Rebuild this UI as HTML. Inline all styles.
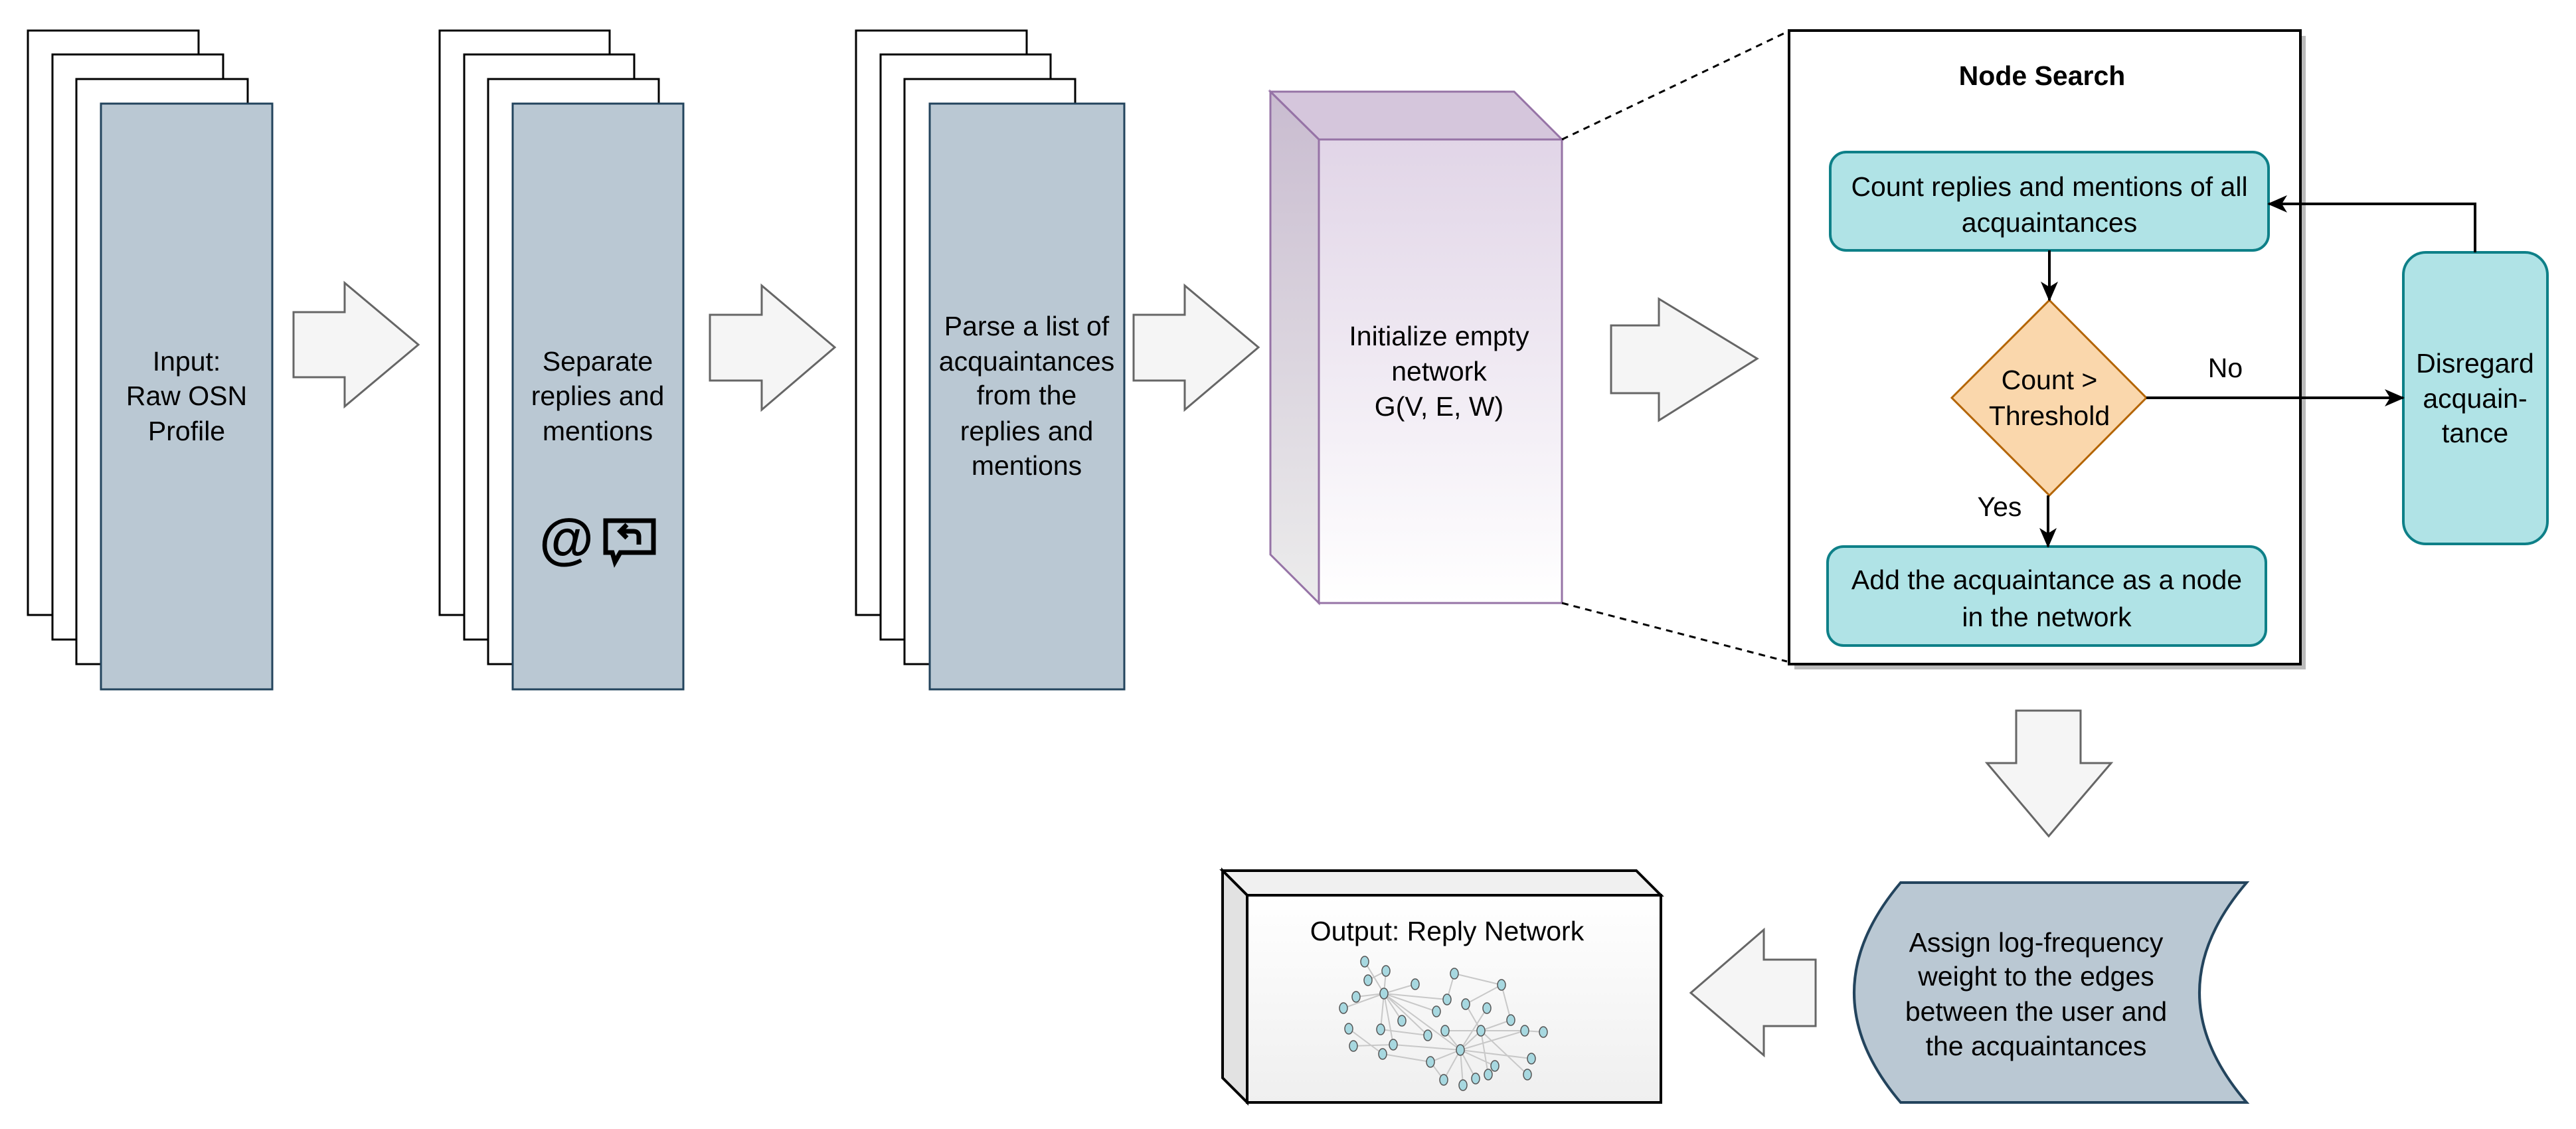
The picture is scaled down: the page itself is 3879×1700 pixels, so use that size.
<!DOCTYPE html>
<html><head><meta charset="utf-8"><style>html,body{margin:0;padding:0;background:#fff}svg{display:block}</style></head>
<body>
<svg width="3879" height="1700" viewBox="0 0 3879 1700" xmlns="http://www.w3.org/2000/svg" font-family="'Liberation Sans', sans-serif">
<defs>
<linearGradient id="pf" x1="0" y1="0" x2="0" y2="1"><stop offset="0" stop-color="#e1d5e7"/><stop offset="1" stop-color="#ffffff"/></linearGradient>
<linearGradient id="pl" x1="0" y1="0" x2="0" y2="1"><stop offset="0" stop-color="#c9bcd0"/><stop offset="1" stop-color="#ececec"/></linearGradient>
<linearGradient id="of" x1="0" y1="0" x2="0" y2="1"><stop offset="0" stop-color="#ffffff"/><stop offset="1" stop-color="#efefef"/></linearGradient>
<marker id="ah" markerWidth="30" markerHeight="30" refX="28" refY="15" orient="auto" markerUnits="userSpaceOnUse" viewBox="0 0 30 30"><path d="M0,2 L30,15 L0,28 L8,15 Z" fill="#000"/></marker>
</defs>
<g fill="#fff" stroke="#000" stroke-width="3">
<rect x="42" y="46" width="257" height="880"/><rect x="79" y="82" width="257" height="881"/><rect x="115" y="119" width="258" height="881"/>
<rect x="662" y="46" width="256" height="880"/><rect x="699" y="82" width="256" height="881"/><rect x="735" y="119" width="257" height="881"/>
<rect x="1289" y="46" width="257" height="880"/><rect x="1326" y="82" width="256" height="881"/><rect x="1362" y="119" width="257" height="881"/>
</g>
<g fill="#bac8d3" stroke="#23445d" stroke-width="3">
<rect x="152" y="156" width="258" height="882"/><rect x="772" y="156" width="257" height="882"/><rect x="1400" y="156" width="293" height="882"/>
</g>
<g font-size="41" text-anchor="middle" fill="#000">
<text x="281" y="558">Input:</text><text x="281" y="610">Raw OSN</text><text x="281" y="663">Profile</text>
<text x="900" y="558">Separate</text><text x="900" y="610">replies and</text><text x="900" y="663">mentions</text>
<text x="1546" y="505">Parse a list of</text><text x="1546" y="558">acquaintances</text><text x="1546" y="609">from the</text><text x="1546" y="663">replies and</text><text x="1546" y="715">mentions</text>
</g>
<text x="853" y="840" font-size="84" font-weight="bold" text-anchor="middle">@</text>
<g fill="none" stroke="#000" stroke-width="7"><path d="M912,784 H984 V832 H934 L926,846 L922,832 H912 Z"/><path d="M962,820 V808 Q962,800 954,800 H934"/><path d="M944,790 L934,800 L944,810"/></g>
<g fill="#f5f5f5" stroke="#666" stroke-width="3">
<path d="M442,470 H519 V426 L630,519 L519,612 V568 H442 Z"/>
<path d="M1069,474 H1147 V430 L1257,523 L1147,617 V573 H1069 Z"/>
<path d="M1707,474 H1784 V430 L1895,523 L1784,617 V573 H1707 Z"/>
<path d="M2426,490 H2498 V450 L2646,540 L2498,633 V592 H2426 Z"/>
<path d="M3036,1070 H3133 V1149 H3179 L3085,1259 L2992,1149 H3036 Z"/>
<path d="M2734,1445 V1545 H2656 V1589 L2546,1495 L2656,1400 V1445 Z"/>
</g>
<polygon points="1913,138 2280,138 2352,210 1986,210" fill="#d5c6dc" stroke="#9673a6" stroke-width="3"/>
<polygon points="1913,138 1986,210 1986,908 1913,835" fill="url(#pl)" stroke="#9673a6" stroke-width="3"/>
<rect x="1986" y="210" width="366" height="698" fill="url(#pf)" stroke="#9673a6" stroke-width="3"/>
<g font-size="41" text-anchor="middle"><text x="2167" y="520">Initialize empty</text><text x="2167" y="573">network</text><text x="2167" y="626">G(V, E, W)</text></g>
<g stroke="#000" stroke-width="3" stroke-dasharray="10,8"><line x1="2352" y1="210" x2="2691" y2="48"/><line x1="2352" y1="908" x2="2691" y2="996"/></g>
<rect x="2702" y="54" width="770" height="954" fill="#bbb"/>
<rect x="2694" y="46" width="770" height="954" fill="#fff" stroke="#000" stroke-width="4"/>
<text x="3075" y="128" font-size="41" font-weight="bold" text-anchor="middle">Node Search</text>
<rect x="2756" y="229" width="660" height="148" rx="24" fill="#b0e3e6" stroke="#0e8088" stroke-width="4"/>
<g font-size="41" text-anchor="middle"><text x="3086" y="295">Count replies and mentions of all</text><text x="3086" y="349">acquaintances</text></g>
<polygon points="3086,452 3232,599 3086,746 2939,599" fill="#fad7ac" stroke="#b46504" stroke-width="3"/>
<g font-size="41" text-anchor="middle"><text x="3086" y="586">Count &gt;</text><text x="3086" y="640">Threshold</text></g>
<rect x="2752" y="823" width="660" height="149" rx="24" fill="#b0e3e6" stroke="#0e8088" stroke-width="4"/>
<g font-size="41" text-anchor="middle"><text x="3082" y="887">Add the acquaintance as a node</text><text x="3082" y="943">in the network</text></g>
<rect x="3619" y="380" width="217" height="439" rx="34" fill="#b0e3e6" stroke="#0e8088" stroke-width="4"/>
<g font-size="41" text-anchor="middle"><text x="3727" y="561">Disregard</text><text x="3727" y="614">acquain-</text><text x="3727" y="666">tance</text></g>
<g stroke="#000" stroke-width="4" fill="none" marker-end="url(#ah)">
<line x1="3086" y1="377" x2="3086" y2="452"/>
<line x1="3084" y1="746" x2="3084" y2="823"/>
<line x1="3232" y1="599" x2="3619" y2="599"/>
<polyline points="3727,380 3727,307 3416,307"/>
</g>
<text x="3011" y="777" font-size="41" text-anchor="middle">Yes</text>
<text x="3351" y="568" font-size="41" text-anchor="middle">No</text>
<path d="M2862,1329 L3383,1329 Q3241,1495 3383,1660 L2862,1660 Q2722,1495 2862,1329 Z" fill="#bac8d3" stroke="#23445d" stroke-width="4"/>
<g font-size="41" text-anchor="middle"><text x="3066" y="1433">Assign log-frequency</text><text x="3066" y="1484">weight to the edges</text><text x="3066" y="1537">between the user and</text><text x="3066" y="1589">the acquaintances</text></g>
<polygon points="1841,1311 2464,1311 2501,1348 1878,1348" fill="#f0f0f0" stroke="#000" stroke-width="4"/>
<polygon points="1841,1311 1878,1348 1878,1660 1841,1623" fill="#e2e2e2" stroke="#000" stroke-width="4"/>
<rect x="1878" y="1348" width="623" height="312" fill="url(#of)" stroke="#000" stroke-width="4"/>
<text x="2179" y="1416" font-size="41" text-anchor="middle">Output: Reply Network</text>
<g stroke="#c8c8c8" stroke-width="2">
<line x1="2084" y1="1496" x2="2055" y2="1448"/><line x1="2084" y1="1496" x2="2087" y2="1462"/><line x1="2084" y1="1496" x2="2131" y2="1482"/><line x1="2084" y1="1496" x2="2042" y2="1501"/><line x1="2084" y1="1496" x2="2023" y2="1518"/><line x1="2084" y1="1496" x2="2179" y2="1505"/><line x1="2084" y1="1496" x2="2111" y2="1537"/><line x1="2084" y1="1496" x2="2079" y2="1550"/><line x1="2084" y1="1496" x2="2150" y2="1559"/><line x1="2084" y1="1496" x2="2199" y2="1581"/><line x1="2084" y1="1496" x2="2098" y2="1573"/><line x1="2084" y1="1496" x2="2163" y2="1523"/>
<line x1="2190" y1="1466" x2="2261" y2="1483"/><line x1="2190" y1="1466" x2="2179" y2="1505"/><line x1="2261" y1="1483" x2="2207" y2="1512"/><line x1="2261" y1="1483" x2="2275" y2="1536"/>
<line x1="2199" y1="1581" x2="2230" y2="1552"/><line x1="2199" y1="1581" x2="2154" y2="1599"/><line x1="2199" y1="1581" x2="2174" y2="1626"/><line x1="2199" y1="1581" x2="2203" y2="1634"/><line x1="2199" y1="1581" x2="2222" y2="1624"/><line x1="2199" y1="1581" x2="2251" y2="1605"/><line x1="2199" y1="1581" x2="2306" y2="1594"/><line x1="2199" y1="1581" x2="2176" y2="1552"/><line x1="2199" y1="1581" x2="2296" y2="1552"/><line x1="2199" y1="1581" x2="2239" y2="1518"/><line x1="2199" y1="1581" x2="2098" y2="1573"/>
<line x1="2230" y1="1552" x2="2296" y2="1552"/><line x1="2230" y1="1552" x2="2275" y2="1536"/><line x1="2230" y1="1552" x2="2176" y2="1552"/><line x1="2230" y1="1552" x2="2300" y2="1618"/><line x1="2230" y1="1552" x2="2241" y2="1618"/><line x1="2230" y1="1552" x2="2207" y2="1512"/>
<line x1="2038" y1="1575" x2="2098" y2="1573"/><line x1="2031" y1="1549" x2="2082" y2="1587"/><line x1="2082" y1="1587" x2="2154" y2="1599"/><line x1="2079" y1="1550" x2="2150" y2="1559"/><line x1="2296" y1="1552" x2="2324" y2="1554"/><line x1="2060" y1="1476" x2="2087" y2="1462"/><line x1="2154" y1="1599" x2="2174" y2="1626"/>
</g>
<g fill="#a7d8e0" stroke="#555" stroke-width="1.5">
<ellipse cx="2055" cy="1448" rx="6" ry="8"/><ellipse cx="2087" cy="1462" rx="6" ry="8"/><ellipse cx="2060" cy="1476" rx="6" ry="8"/><ellipse cx="2131" cy="1482" rx="6" ry="8"/><ellipse cx="2190" cy="1466" rx="6" ry="8"/><ellipse cx="2261" cy="1483" rx="6" ry="8"/><ellipse cx="2042" cy="1501" rx="6" ry="8"/><ellipse cx="2084" cy="1496" rx="6" ry="8"/><ellipse cx="2179" cy="1505" rx="6" ry="8"/><ellipse cx="2207" cy="1512" rx="6" ry="8"/><ellipse cx="2239" cy="1518" rx="6" ry="8"/><ellipse cx="2023" cy="1518" rx="6" ry="8"/><ellipse cx="2163" cy="1523" rx="6" ry="8"/><ellipse cx="2275" cy="1536" rx="6" ry="8"/><ellipse cx="2111" cy="1537" rx="6" ry="8"/><ellipse cx="2031" cy="1549" rx="6" ry="8"/><ellipse cx="2079" cy="1550" rx="6" ry="8"/><ellipse cx="2176" cy="1552" rx="6" ry="8"/><ellipse cx="2230" cy="1552" rx="6" ry="8"/><ellipse cx="2296" cy="1552" rx="6" ry="8"/><ellipse cx="2324" cy="1554" rx="6" ry="8"/><ellipse cx="2150" cy="1559" rx="6" ry="8"/><ellipse cx="2098" cy="1573" rx="6" ry="8"/><ellipse cx="2038" cy="1575" rx="6" ry="8"/><ellipse cx="2199" cy="1581" rx="6" ry="8"/><ellipse cx="2082" cy="1587" rx="6" ry="8"/><ellipse cx="2306" cy="1594" rx="6" ry="8"/><ellipse cx="2154" cy="1599" rx="6" ry="8"/><ellipse cx="2251" cy="1605" rx="6" ry="8"/><ellipse cx="2300" cy="1618" rx="6" ry="8"/><ellipse cx="2241" cy="1618" rx="6" ry="8"/><ellipse cx="2222" cy="1624" rx="6" ry="8"/><ellipse cx="2174" cy="1626" rx="6" ry="8"/><ellipse cx="2203" cy="1634" rx="6" ry="8"/>
</g>
</svg>
</body></html>
